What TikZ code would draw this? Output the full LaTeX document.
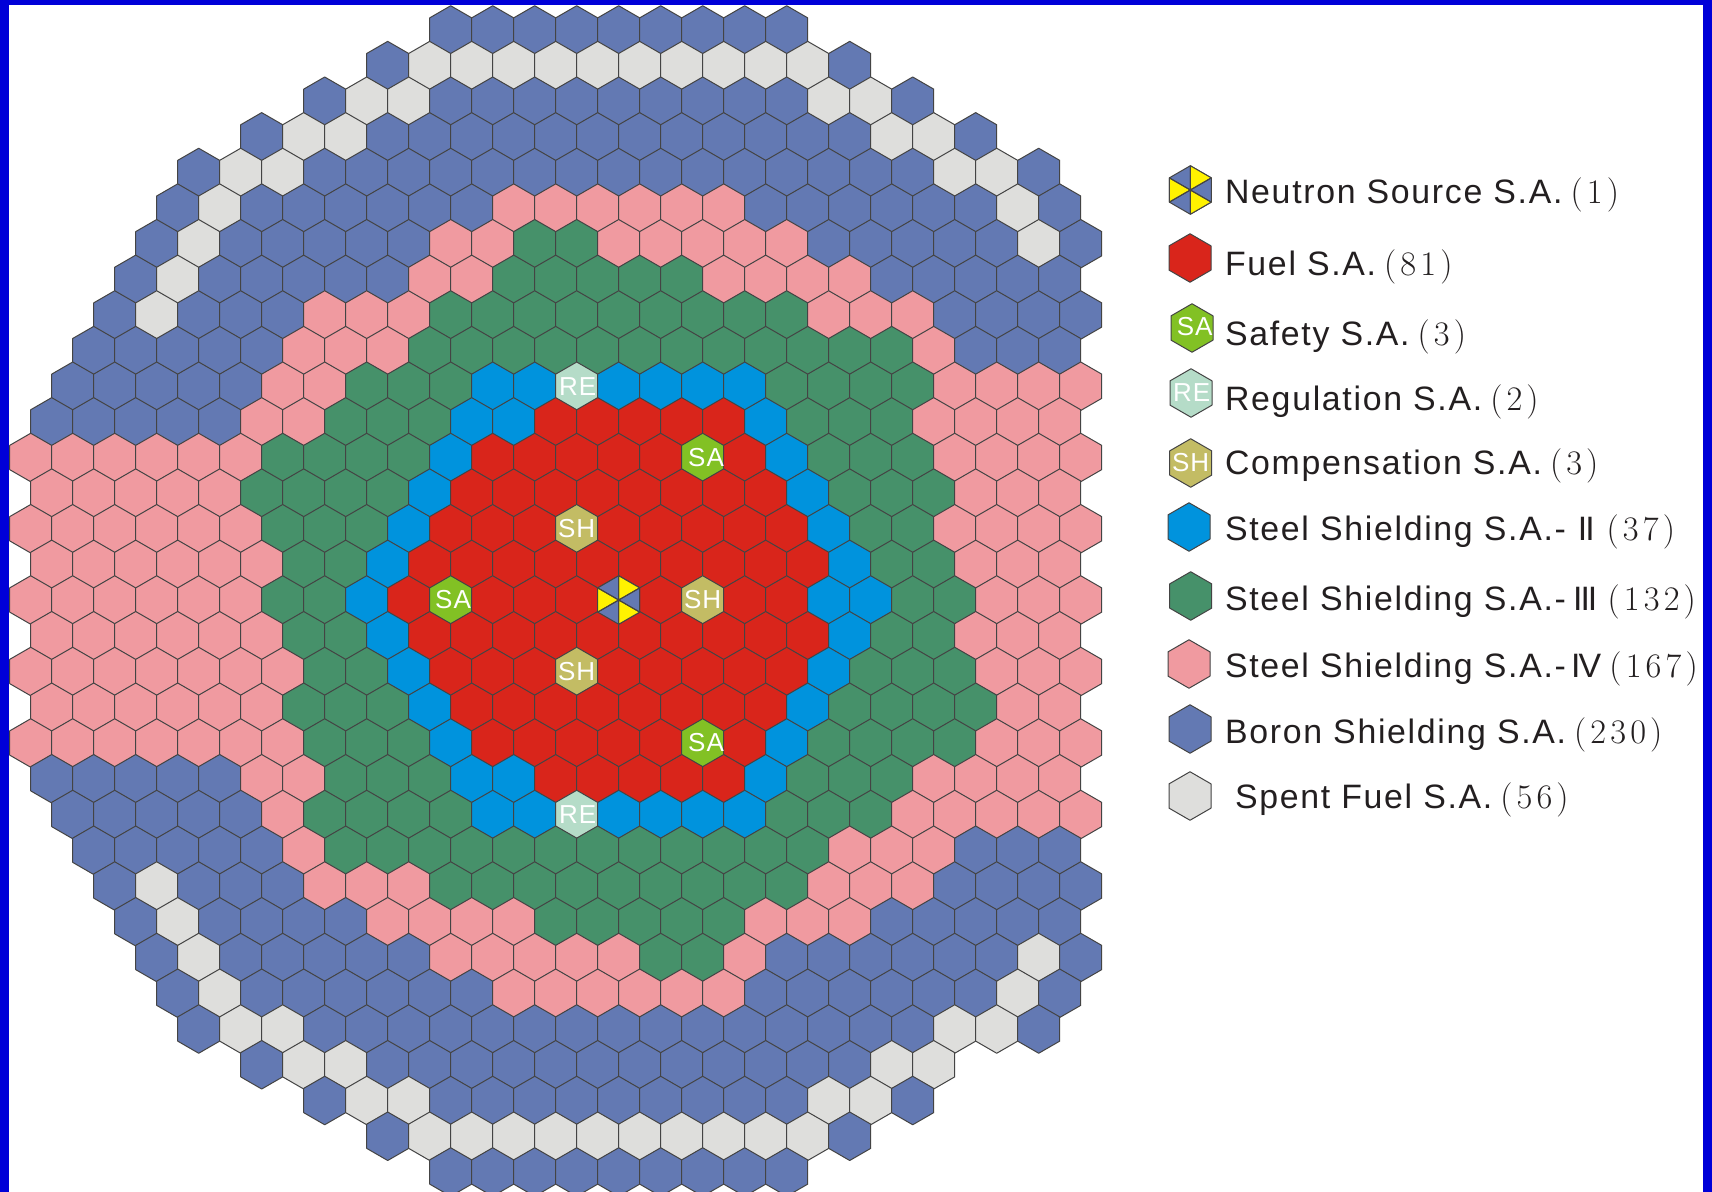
\documentclass[tikz,border=0pt]{standalone}
\usepackage{fontspec}
\setmainfont{Latin Modern Roman}
\newfontfamily\lgfont[LetterSpace=5]{Liberation Sans}
\newfontfamily\romfont[LetterSpace=-6]{Liberation Sans}
\newfontfamily\cellfont[LetterSpace=4]{Liberation Sans}
\definecolor{hexB}{HTML}{6379B3}
\definecolor{hexS}{HTML}{DEDEDC}
\definecolor{hexP}{HTML}{F09AA0}
\definecolor{hexG}{HTML}{46916A}
\definecolor{hexD}{HTML}{0093DD}
\definecolor{hexR}{HTML}{D9251B}
\definecolor{hexA}{HTML}{82C124}
\definecolor{hexH}{HTML}{C3BC64}
\definecolor{hexE}{HTML}{B5DCC8}
\definecolor{hexN}{HTML}{FFF200}
\definecolor{hexline}{HTML}{444444}
\definecolor{framecol}{HTML}{0000D8}
\definecolor{inkcol}{HTML}{231F20}
\tikzset{
  hexcell/.style={draw=hexline,line width=.5pt,line join=round},
  celltext/.style={text=white,inner sep=0pt,font=\cellfont\fontsize{13}{14}\selectfont},
  legtext/.style={anchor=base west,inner sep=0pt,text=inkcol,font=\lgfont\fontsize{16.92}{20}\selectfont},
}
\newcommand\hexat[3]{\path[hexcell,fill=#3] (#1,#2) ++(0,-24.25) -- ++(21,12.125) -- ++(0,24.25) -- ++(-21,12.125) -- ++(-21,-12.125) -- ++(0,-24.25) -- cycle;}
\newcommand\neutronhex[2]{%
  \path[hexcell,fill=hexB] (#1,#2) ++(0,-24.25) -- ++(21,12.125) -- ++(0,24.25) -- ++(-21,12.125) -- ++(-21,-12.125) -- ++(0,-24.25) -- cycle;
  \path[hexcell,fill=hexN] (#1,#2) -- ++(0,-24.25) -- ++(21,12.125) -- cycle;
  \path[hexcell,fill=hexN] (#1,#2) -- ++(21,12.125) -- ++(-21,12.125) -- cycle;
  \path[hexcell,fill=hexN] (#1,#2) -- ++(-21,12.125) -- ++(0,-24.25) -- cycle;
  \draw[hexcell] (#1,#2) -- ++(0,-24.25) (#1,#2) -- ++(0,24.25) (#1,#2) -- ++(21,12.125) (#1,#2) -- ++(-21,-12.125) (#1,#2) -- ++(21,-12.125) (#1,#2) -- ++(-21,12.125);
}
\makeatletter
\newcount\hexi
\newcommand\hexrow[3]{\hexi=#2\relax\def\hexk{#1}\@tfor\hexc:=#3\do{\hexcellnow\global\advance\hexi by 2\relax}}
\newcommand\hexcellnow{%
  \pgfmathsetmacro\hexx{618.7+(\the\hexi)*21}%
  \pgfmathsetmacro\hexy{600+(\hexk)*35.75+max(0,-(\hexk)/8)}%
  \hexat{\hexx}{\hexy}{hex\hexc}}
\makeatother
\newcommand\cnt[1]{{\rmfamily\fontsize{17.2}{20}\selectfont\addfontfeature{LetterSpace=12}#1}}
\newcommand\rom[1]{{\romfont #1}}
\begin{document}
\begin{tikzpicture}[x=0.5pt,y=-0.5pt]
\useasboundingbox (0,0) rectangle (1712,1192);
\clip (0,0) rectangle (1712,1192);
\fill[white] (0,0) rectangle (1712,1192);
\hexrow{-16}{-8}{BBBBBBBBB}
\hexrow{-15}{-11}{B SSSSSSSSSS B}
\hexrow{-14}{-14}{B SS BBBBBBBBB SS B}
\hexrow{-13}{-17}{B SS BBBBBBBBBBBB SS B}
\hexrow{-12}{-20}{B SS BBBBBBBBBBBBBBB SS B}
\hexrow{-11}{-21}{B S BBBBBB PPPPPP BBBBBB S B}
\hexrow{-10}{-22}{B S BBBBB PP GG PPPPP BBBBB S B}
\hexrow{-9}{-23}{B S BBBBB PP GGGGG PPPP BBBBB}
\hexrow{-8}{-24}{B S BBB PPP GGGGGGGGG PPP BBBB}
\hexrow{-7}{-25}{BBBBB PPP GGGGGGGGGGGG P BBB}
\hexrow{-6}{-26}{BBBBB PP GGG DD E DDDD GGGG PPPP}
\hexrow{-5}{-27}{BBBBB PP GGG DD RRRRR D GGG PPPP}
\hexrow{-4}{-28}{PPPPPP GGGG D RRRRR A R D GGG PPPP}
\hexrow{-3}{-27}{PPPPP GGGG D RRRRRRRR D GGG PPP}
\hexrow{-2}{-28}{PPPPPP GGG D RRR H RRRRR D GG PPPP}
\hexrow{-1}{-27}{PPPPPP GG D RRRRRRRRRR D GG PPP}
\hexrow{0}{-28}{PPPPPP GG D R A RRR N R H RR DD GG PPP}
\hexrow{1}{-27}{PPPPPP GG D RRRRRRRRRR D GG PPP}
\hexrow{2}{-28}{PPPPPPP GG D RRR H RRRRR D GGG PPP}
\hexrow{3}{-27}{PPPPPP GGG D RRRRRRRR D GGGG PP}
\hexrow{4}{-28}{PPPPPPP GGG D RRRRR A R D GGGG PPP}
\hexrow{5}{-27}{BBBBB PP GGG DD RRRRR D GGG PPPP}
\hexrow{6}{-26}{BBBBB P GGGG DD E DDDD GGG PPPPP}
\hexrow{7}{-25}{BBBBB P GGGGGGGGGGGG PPP BBB}
\hexrow{8}{-24}{B S BBB PPP GGGGGGGGG PPP BBBB}
\hexrow{9}{-23}{B S BBBB PPPP GGGGG PPP BBBBB}
\hexrow{10}{-22}{B S BBBBB PPPPP GG P BBBBBB S B}
\hexrow{11}{-21}{B S BBBBBB PPPPPP BBBBBB S B}
\hexrow{12}{-20}{B SS BBBBBBBBBBBBBBB SS B}
\hexrow{13}{-17}{B SS BBBBBBBBBBBB SS}
\hexrow{14}{-14}{B SS BBBBBBBBB SS B}
\hexrow{15}{-11}{B SSSSSSSSSS B}
\hexrow{16}{-8}{BBBBBBBBB}
\neutronhex{618.7}{600}
% grid labels
\node[celltext] (re1) at (577.7,386.2) {RE};
\node[celltext] (re2) at (577.7,814.5) {RE};
\node[celltext] (sa1) at (706,457.5) {SA};
\node[celltext] (sa2) at (453,600) {SA};
\node[celltext] (sa3) at (706,743) {SA};
\node[celltext] (sh1) at (576.7,528.7) {SH};
\node[celltext] (sh2) at (702.7,600) {SH};
\node[celltext] (sh3) at (576.7,671.5) {SH};
% legend hexagons
\neutronhex{1190.3}{190}
\hexat{1190}{258}{hexR}
\hexat{1192}{328}{hexA}
\hexat{1191}{393}{hexE}
\hexat{1190.7}{463}{hexH}
\hexat{1189}{527}{hexD}
\hexat{1190.7}{596}{hexG}
\hexat{1189}{664}{hexP}
\hexat{1190}{729}{hexB}
\hexat{1190}{796}{hexS}
\node[celltext] (lgsa) at (1194.7,327) {SA};
\node[celltext] (lgre) at (1191.6,393) {RE};
\node[celltext] (lgsh) at (1190.7,463) {SH};
% legend texts
\node[legtext] (lg1) at (1224.7,203.3) {Neutron Source S.A.\hspace{4pt}\cnt{(1)}};
\node[legtext] (lg2) at (1224.7,275.3) {Fuel S.A.\hspace{4pt}\cnt{(81)}};
\node[legtext] (lg3) at (1224.7,346) {Safety S.A.\hspace{4pt}\cnt{(3)}};
\node[legtext] (lg4) at (1224.7,410.7) {Regulation S.A.\hspace{4pt}\cnt{(2)}};
\node[legtext] (lg5) at (1224.7,474) {Compensation S.A.\hspace{4pt}\cnt{(3)}};
\node[legtext] (lg6) at (1224.7,540) {Steel Shielding S.A.-\hspace{6pt}\rom{II}\hspace{6pt}\cnt{(37)}};
\node[legtext] (lg7) at (1224.7,610) {Steel Shielding S.A.-\hspace{3.6pt}\rom{III}\hspace{5.2pt}\cnt{(132)}};
\node[legtext] (lg8) at (1224.7,677.2) {Steel Shielding S.A.-\hspace{2.6pt}\rom{IV}\hspace{4.2pt}\cnt{(167)}};
\node[legtext] (lg9) at (1224.7,743) {Boron Shielding S.A.\hspace{4pt}\cnt{(230)}};
\node[legtext] (lg10) at (1234.6,808) {Spent Fuel S.A.\hspace{4pt}\cnt{(56)}};
% frame
\fill[framecol] (0,0) rectangle (1712,4.7);
\fill[framecol] (0,0) rectangle (9,1192);
\fill[framecol] (1703,0) rectangle (1712,1192);
\end{tikzpicture}
\end{document}
